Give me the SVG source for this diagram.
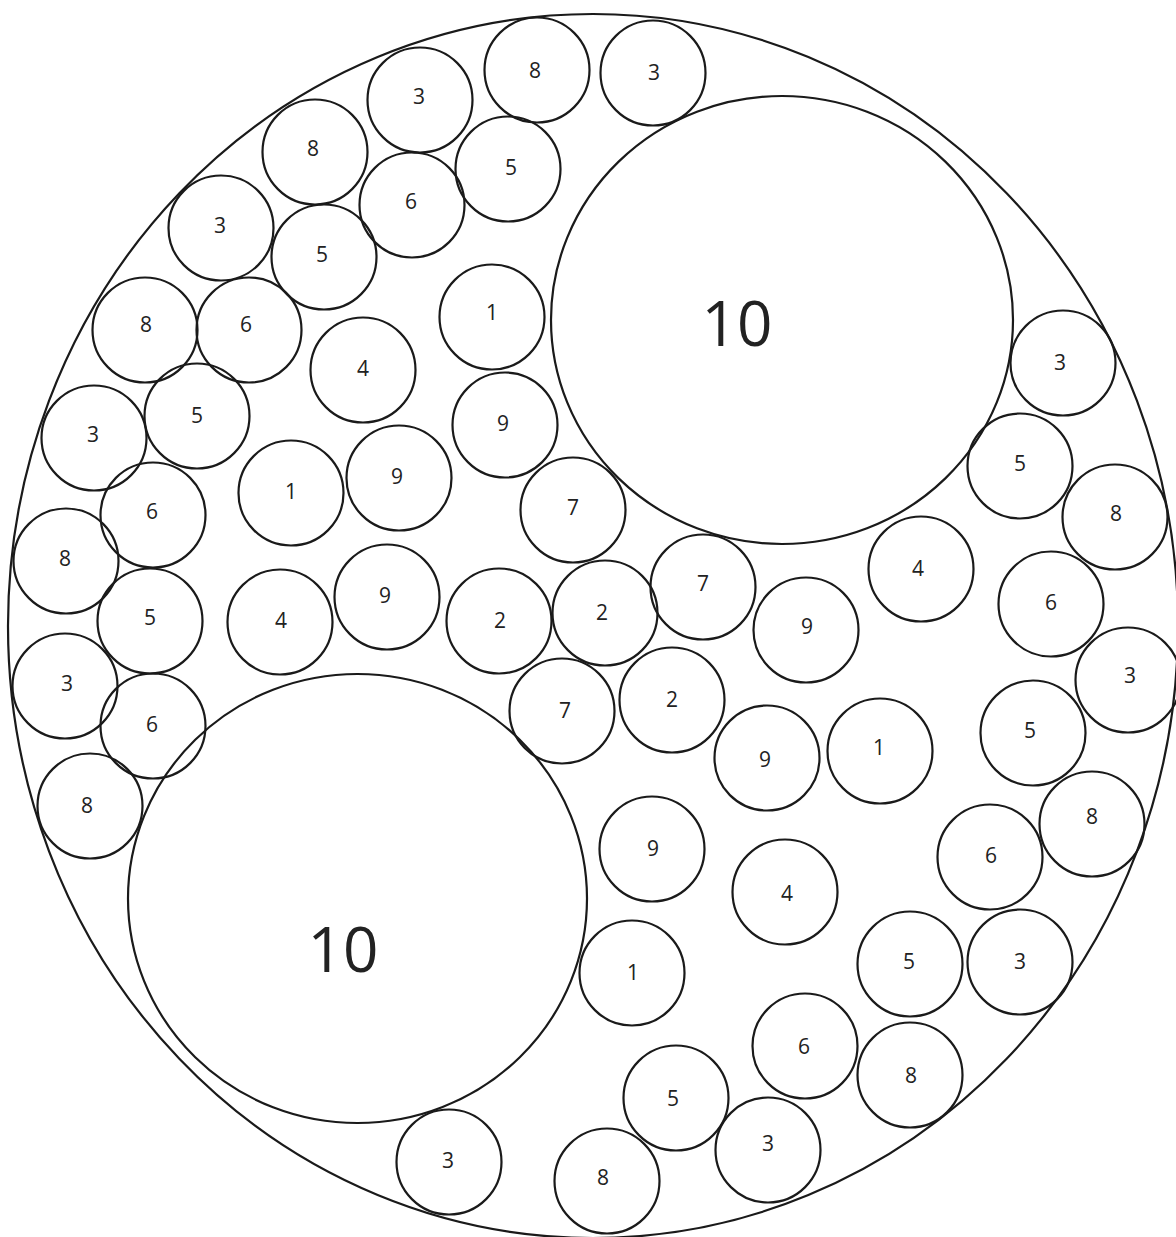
<svg xmlns="http://www.w3.org/2000/svg" width="1176" height="1237" viewBox="0 0 1176 1237">
<style>
.c{fill:none;stroke:#1a1a1a;stroke-width:2.2}
.t{font-family:"Open Sans","Noto Sans","Liberation Sans",sans-serif;font-size:21px;font-weight:500;fill:#222222;text-anchor:middle;dominant-baseline:central}
.b{font-size:62px}
</style>
<rect width="1176" height="1237" fill="#ffffff"/>
<g id="outer"><ellipse class="c" cx="593" cy="626" rx="585" ry="612"/></g>
<g id="big10a"><ellipse class="c" cx="782" cy="320" rx="231" ry="224"/><text class="t b" x="737" y="322">10</text></g>
<g id="big10b"><ellipse class="c" cx="357.5" cy="898.5" rx="229.5" ry="224.5"/><text class="t b" x="343" y="948">10</text></g>
<g id="n1"><circle class="c" cx="537" cy="70" r="52.5"/><text class="t" x="535" y="70">8</text></g>
<g id="n2"><circle class="c" cx="653" cy="73" r="52.5"/><text class="t" x="654" y="72">3</text></g>
<g id="n3"><circle class="c" cx="420" cy="100" r="52.5"/><text class="t" x="419" y="96">3</text></g>
<g id="n4"><circle class="c" cx="315" cy="152" r="52.5"/><text class="t" x="313" y="148">8</text></g>
<g id="n5"><circle class="c" cx="508" cy="169" r="52.5"/><text class="t" x="511" y="167">5</text></g>
<g id="n6"><circle class="c" cx="412" cy="205" r="52.5"/><text class="t" x="411" y="201">6</text></g>
<g id="n7"><circle class="c" cx="221" cy="228" r="52.5"/><text class="t" x="220" y="225">3</text></g>
<g id="n8"><circle class="c" cx="324" cy="257" r="52.5"/><text class="t" x="322" y="254">5</text></g>
<g id="n9"><circle class="c" cx="145" cy="330" r="52.5"/><text class="t" x="146" y="324">8</text></g>
<g id="n10"><circle class="c" cx="249" cy="330" r="52.5"/><text class="t" x="246" y="324">6</text></g>
<g id="n11"><circle class="c" cx="492" cy="317" r="52.5"/><text class="t" x="492" y="312">1</text></g>
<g id="n12"><circle class="c" cx="363" cy="370" r="52.5"/><text class="t" x="363" y="368">4</text></g>
<g id="n13"><circle class="c" cx="94" cy="438" r="52.5"/><text class="t" x="93" y="434">3</text></g>
<g id="n14"><circle class="c" cx="197" cy="416" r="52.5"/><text class="t" x="197" y="415">5</text></g>
<g id="n15"><circle class="c" cx="505" cy="425" r="52.5"/><text class="t" x="503" y="423">9</text></g>
<g id="n16"><circle class="c" cx="291" cy="493" r="52.5"/><text class="t" x="291" y="491">1</text></g>
<g id="n17"><circle class="c" cx="399" cy="478" r="52.5"/><text class="t" x="397" y="476">9</text></g>
<g id="n18"><circle class="c" cx="153" cy="515" r="52.5"/><text class="t" x="152" y="511">6</text></g>
<g id="n19"><circle class="c" cx="573" cy="510" r="52.5"/><text class="t" x="573" y="507">7</text></g>
<g id="n20"><circle class="c" cx="66" cy="561" r="52.5"/><text class="t" x="65" y="558">8</text></g>
<g id="n21"><circle class="c" cx="150" cy="621" r="52.5"/><text class="t" x="150" y="617">5</text></g>
<g id="n22"><circle class="c" cx="280" cy="622" r="52.5"/><text class="t" x="281" y="620">4</text></g>
<g id="n23"><circle class="c" cx="387" cy="597" r="52.5"/><text class="t" x="385" y="595">9</text></g>
<g id="n24"><circle class="c" cx="499" cy="621" r="52.5"/><text class="t" x="500" y="620">2</text></g>
<g id="n25"><circle class="c" cx="605" cy="613" r="52.5"/><text class="t" x="602" y="612">2</text></g>
<g id="n26"><circle class="c" cx="703" cy="587" r="52.5"/><text class="t" x="703" y="583">7</text></g>
<g id="n27"><circle class="c" cx="806" cy="630" r="52.5"/><text class="t" x="807" y="626">9</text></g>
<g id="n28"><circle class="c" cx="921" cy="569" r="52.5"/><text class="t" x="918" y="568">4</text></g>
<g id="n29"><circle class="c" cx="1063" cy="363" r="52.5"/><text class="t" x="1060" y="362">3</text></g>
<g id="n30"><circle class="c" cx="1020" cy="466" r="52.5"/><text class="t" x="1020" y="463">5</text></g>
<g id="n31"><circle class="c" cx="1115" cy="517" r="52.5"/><text class="t" x="1116" y="513">8</text></g>
<g id="n32"><circle class="c" cx="1051" cy="604" r="52.5"/><text class="t" x="1051" y="602">6</text></g>
<g id="n33"><circle class="c" cx="1128" cy="680" r="52.5"/><text class="t" x="1130" y="675">3</text></g>
<g id="n34"><circle class="c" cx="1033" cy="733" r="52.5"/><text class="t" x="1030" y="730">5</text></g>
<g id="n35"><circle class="c" cx="65" cy="686" r="52.5"/><text class="t" x="67" y="683">3</text></g>
<g id="n36"><circle class="c" cx="153" cy="726" r="52.5"/><text class="t" x="152" y="724">6</text></g>
<g id="n37"><circle class="c" cx="562" cy="711" r="52.5"/><text class="t" x="565" y="710">7</text></g>
<g id="n38"><circle class="c" cx="672" cy="700" r="52.5"/><text class="t" x="672" y="699">2</text></g>
<g id="n39"><circle class="c" cx="767" cy="758" r="52.5"/><text class="t" x="765" y="759">9</text></g>
<g id="n40"><circle class="c" cx="880" cy="751" r="52.5"/><text class="t" x="879" y="747">1</text></g>
<g id="n41"><circle class="c" cx="90" cy="806" r="52.5"/><text class="t" x="87" y="805">8</text></g>
<g id="n42"><circle class="c" cx="1092" cy="824" r="52.5"/><text class="t" x="1092" y="816">8</text></g>
<g id="n43"><circle class="c" cx="990" cy="857" r="52.5"/><text class="t" x="991" y="855">6</text></g>
<g id="n44"><circle class="c" cx="652" cy="849" r="52.5"/><text class="t" x="653" y="848">9</text></g>
<g id="n45"><circle class="c" cx="785" cy="892" r="52.5"/><text class="t" x="787" y="893">4</text></g>
<g id="n46"><circle class="c" cx="632" cy="973" r="52.5"/><text class="t" x="633" y="972">1</text></g>
<g id="n47"><circle class="c" cx="910" cy="964" r="52.5"/><text class="t" x="909" y="961">5</text></g>
<g id="n48"><circle class="c" cx="1020" cy="962" r="52.5"/><text class="t" x="1020" y="961">3</text></g>
<g id="n49"><circle class="c" cx="805" cy="1046" r="52.5"/><text class="t" x="804" y="1046">6</text></g>
<g id="n50"><circle class="c" cx="910" cy="1075" r="52.5"/><text class="t" x="911" y="1075">8</text></g>
<g id="n51"><circle class="c" cx="676" cy="1098" r="52.5"/><text class="t" x="673" y="1098">5</text></g>
<g id="n52"><circle class="c" cx="768" cy="1150" r="52.5"/><text class="t" x="768" y="1143">3</text></g>
<g id="n53"><circle class="c" cx="449" cy="1162" r="52.5"/><text class="t" x="448" y="1160">3</text></g>
<g id="n54"><circle class="c" cx="607" cy="1181" r="52.5"/><text class="t" x="603" y="1177">8</text></g>
<g id="connectors"></g>
</svg>
